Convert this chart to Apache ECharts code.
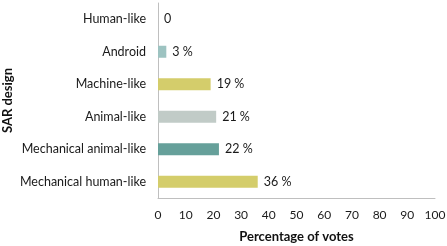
<!DOCTYPE html>
<html>
<head>
<meta charset="utf-8">
<script src="https://cdn.jsdelivr.net/npm/echarts@6/dist/echarts.min.js"></script>
<style>
html, body { margin: 0; padding: 0; background: #fff; }
#chart { width: 447px; height: 246px; }
</style>
</head>
<body>
<div id="chart"></div>
<script>
// categories bottom -> top (category axis starts at the bottom)
var designs = ['Mechanical human-like', 'Mechanical animal-like', 'Animal-like', 'Machine-like', 'Android', 'Human-like'];
var votes = [36, 22, 21, 19, 3, 0];
var barColors = ['#d4cd6b', '#66a09a', '#c1cbc7', '#d4cd6b', '#9dc3c1', '#9dc3c1'];
var xTicks = [0, 10, 20, 30, 40, 50, 60, 70, 80, 90, 100];

var font = 'Lato';
var chart = echarts.init(document.getElementById('chart'));
chart.setOption({
    animation: false,
    grid: {
        left: 158,
        right: 12,
        top: 3,
        bottom: 48,
        outerBoundsMode: 'none'
    },
    xAxis: {
        type: 'value',
        min: xTicks[0],
        max: xTicks[xTicks.length - 1],
        interval: 10,
        name: 'Percentage of votes',
        nameLocation: 'middle',
        nameGap: 32,
        nameMoveOverlap: false,
        nameTextStyle: { fontFamily: font, fontSize: 13, fontWeight: 'bold', color: '#111' },
        axisLine: { show: true, lineStyle: { color: '#bfbfbf' } },
        axisTick: { show: false },
        splitLine: { show: false },
        axisLabel: { fontFamily: font, fontSize: 12, color: '#1a1a1a', margin: 11 }
    },
    yAxis: {
        type: 'category',
        data: designs,
        name: 'SAR design',
        nameLocation: 'middle',
        nameGap: 144,
        nameMoveOverlap: false,
        nameTextStyle: { fontFamily: font, fontSize: 13, fontWeight: 'bold', color: '#111' },
        axisLine: { show: true, lineStyle: { color: '#bfbfbf' } },
        axisTick: { show: false },
        axisLabel: { fontFamily: font, fontSize: 12.5, color: '#1a1a1a', margin: 12 }
    },
    series: [{
        type: 'bar',
        barWidth: 12,
        data: votes.map(function (v, i) {
            return { value: v, itemStyle: { color: barColors[i] } };
        }),
        label: {
            show: true,
            position: 'right',
            distance: 6,
            fontFamily: font,
            fontSize: 12.5,
            color: '#1a1a1a',
            formatter: function (p) { return p.value === 0 ? '0' : p.value + ' %'; }
        }
    }]
});
</script>
</body>
</html>
